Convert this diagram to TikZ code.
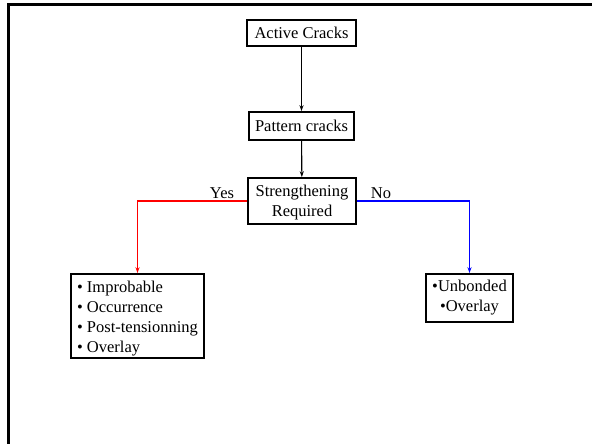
\documentclass[tikz,border=0pt]{standalone}
\usepackage{fontspec}
\setmainfont{Liberation Serif}
\usetikzlibrary{arrows.meta}
\begin{document}
\begin{tikzpicture}[x=1pt,y=-1pt,
  box/.style={draw,line width=1.6pt,inner sep=0pt,font=\fontsize{16.5}{20}\selectfont},
  flow/.style={line width=1.1pt,-{Stealth[length=6pt,width=4pt]}},
  lab/.style={font=\fontsize{16.5}{20}\selectfont,inner sep=0pt}]
\useasboundingbox (0,0) rectangle (592,444);
\draw[line width=2.8pt] (8.5,444) -- (8.5,4.5) -- (592,4.5);
\node[box,minimum width=109pt,minimum height=26pt] (A) at (301.5,33) {Active Cracks};
\node[box,minimum width=105pt,minimum height=28pt] (P) at (301.5,126) {Pattern cracks};
\node[box,minimum width=108pt,minimum height=46pt,align=center] (S) at (302,201) {\rule{0pt}{15pt}Strengthening\\Required};
\node[box,minimum width=133pt,minimum height=84pt,align=left] (L) at (137.5,316) {\rule{0pt}{17pt}• Improbable\\• Occurrence\\• Post-tensionning\\• Overlay};
\node[box,minimum width=87pt,minimum height=48pt,align=center] (R) at (469.5,298) {•Unbonded\\•Overlay};
\draw[flow] (A) -- (P);
\draw[flow] (P) -- (S);
\draw[flow,red] (S.west) -| (L.north);
\draw[flow,blue] (S.east) -| (R.north);
\node[lab,anchor=base] (yes) at (222,198) {Yes};
\node[lab,anchor=base] (no) at (381,198) {No};
\end{tikzpicture}
\end{document}
